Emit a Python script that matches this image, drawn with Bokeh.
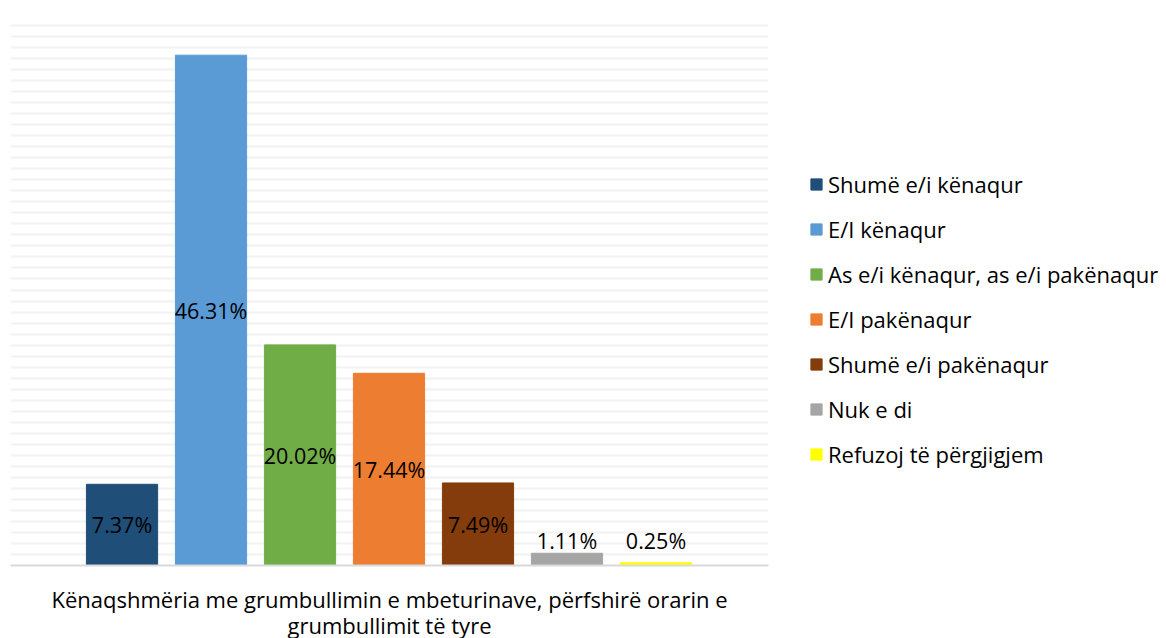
from bokeh.plotting import figure
from bokeh.models import ColumnDataSource, FixedTicker, Range1d, Legend, LegendItem
from bokeh.core.properties import value
from bokeh.embed import file_html
from bokeh.resources import INLINE

labels = [
    "Shumë e/i kënaqur",
    "E/I kënaqur",
    "As e/i kënaqur, as e/i pakënaqur",
    "E/I pakënaqur",
    "Shumë e/i pakënaqur",
    "Nuk e di",
    "Refuzoj të përgjigjem",
]
values = [7.37, 46.31, 20.02, 17.44, 7.49, 1.11, 0.25]
colors = ["#1F4E79", "#5B9BD5", "#70AD47", "#ED7D31", "#843C0C", "#A5A5A5", "#FFFF00"]
category_title = "Kënaqshmëria me grumbullimin e mbeturinave, përfshirë orarin e\ngrumbullimit të tyre"

FONT = "Open Sans"

xs = list(range(len(labels)))
text = [f"{v:.2f}%" for v in values]
label_y = [v / 2 if v > 3 else 2.3 for v in values]

src = ColumnDataSource(dict(x=xs, top=values, color=colors, label=labels,
                            text=text, ly=label_y))

p = figure(frame_width=758, frame_height=551, output_backend="svg", toolbar_location=None,
           x_range=Range1d(-1.253, 7.264), y_range=Range1d(0, 50),
           min_border_left=10, min_border_right=0, min_border_top=14,
           min_border_bottom=0)
p.outline_line_color = None
p.background_fill_color = "white"

bars = p.vbar(x="x", top="top", width=0.8, color="color", source=src)
p.text(x="x", y="ly", text="text", source=src, text_align="center",
       text_baseline="middle", text_font=value(FONT), text_font_size="21.5px",
       text_color="#000000")

p.yaxis.visible = False
p.xgrid.visible = False
p.ygrid.ticker = FixedTicker(ticks=list(range(1, 51)))
p.ygrid.grid_line_color = "#F2F2F2"
p.ygrid.grid_line_width = 2

xa = p.xaxis[0]
xa.ticker = FixedTicker(ticks=[])
xa.axis_line_color = "#D9D9D9"
xa.axis_line_width = 2
xa.major_tick_line_color = None
xa.minor_tick_line_color = None
xa.axis_label = category_title
xa.axis_label_text_font = FONT
xa.axis_label_text_font_size = "22px"
xa.axis_label_text_font_style = "normal"
xa.axis_label_text_color = "#000000"
xa.axis_label_text_line_height = 0.88
xa.axis_label_standoff = 18

items = [LegendItem(label=lab, renderers=[bars], index=i) for i, lab in enumerate(labels)]
lg = Legend(items=items, location=(41, 96))
lg.border_line_color = None
lg.background_fill_alpha = 0
lg.padding = 0
lg.margin = 0
lg.glyph_width = 14
lg.glyph_height = 14
lg.label_height = 24
lg.spacing = 15
lg.label_standoff = 5
lg.label_text_font = FONT
lg.label_text_font_size = "22px"
lg.label_text_color = "#000000"
p.add_layout(lg, "right")

open("out.html", "w").write(file_html(p, INLINE))
